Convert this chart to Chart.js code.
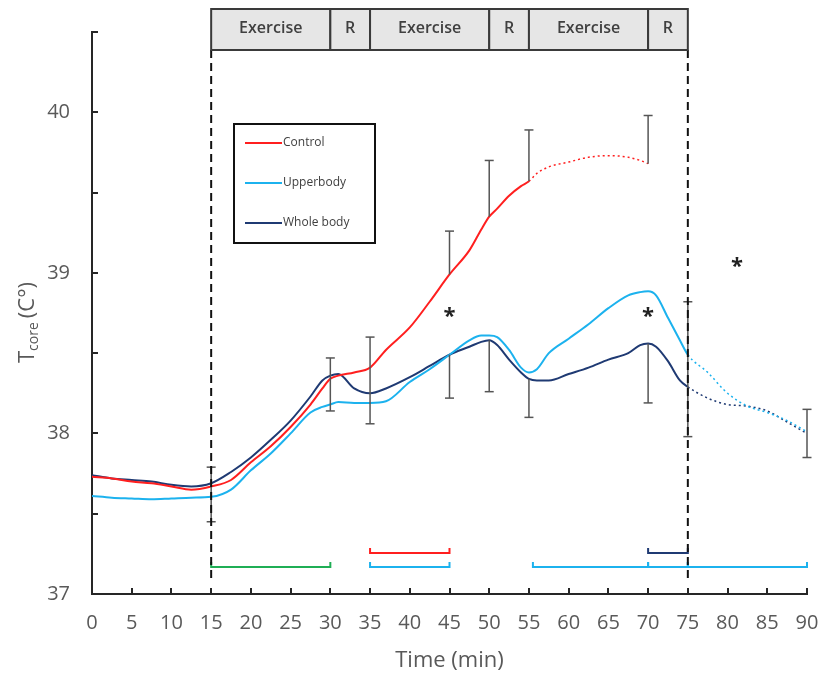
<!DOCTYPE html>
<html>
<head>
<meta charset="utf-8">
<script src="https://cdn.jsdelivr.net/npm/chart.js@4/dist/chart.umd.min.js"></script>
<style>
  html,body{margin:0;padding:0;background:#fff;}
  #wrap{width:820px;height:678px;position:relative;}
</style>
</head>
<body>
<div id="wrap"><canvas id="c" width="820" height="678"></canvas></div>
<script>
// ---- data ----
const times = [0,2.5,5,7.5,10,12.5,15,17.5,20,22.5,25,27.5,29,30,31,33,35,37,40,42.5,45,47.5,49,50,51,52.5,54,55,56,57.5,60,62.5,65,67.5,69,70,71,72.5,74,75,77.5,80,82.5,85,87.5,90];
const control = [37.73,37.72,37.70,37.69,37.67,37.65,37.67,37.71,37.82,37.92,38.04,38.18,38.28,38.34,38.36,38.38,38.41,38.52,38.66,38.82,38.99,39.14,39.27,39.35,39.40,39.48,39.54,39.57,39.62,39.66,39.69,39.72,39.73,39.72,39.70,39.68,null,null,null,null,null,null,null,null,null,null];
const upperbody = [37.61,37.60,37.595,37.59,37.595,37.60,37.605,37.65,37.77,37.875,38.00,38.13,38.165,38.18,38.195,38.19,38.19,38.20,38.32,38.40,38.49,38.58,38.61,38.61,38.60,38.52,38.41,38.38,38.40,38.50,38.59,38.68,38.78,38.86,38.88,38.885,38.86,38.72,38.58,38.49,38.38,38.25,38.17,38.13,38.08,38.01];
const wholebody = [37.74,37.72,37.71,37.70,37.68,37.67,37.69,37.76,37.85,37.96,38.08,38.23,38.33,38.36,38.37,38.28,38.25,38.28,38.35,38.42,38.49,38.54,38.57,38.58,38.55,38.46,38.38,38.34,38.33,38.33,38.37,38.41,38.46,38.50,38.55,38.56,38.54,38.45,38.33,38.29,38.22,38.18,38.17,38.14,38.07,38.00];
const seriesNames = ['Control','Upperbody','Whole body'];
const seriesColors = ['#ff1f1f','#1cb2ee','#1f3a73'];
const dottedFrom = [55, 75, 75];

// error bars
const errTime = [15,30,35,45,45,50,50,55,55,70,70,75,90];
const errLow  = [37.45,38.14,38.06,38.99,38.22,39.35,38.26,39.57,38.10,39.68,38.19,37.98,37.85];
const errHigh = [37.79,38.47,38.60,39.26,38.49,39.70,38.58,39.89,38.34,39.98,38.56,38.82,38.15];
const errCaps = ['both','both','both','high','low','high','low','high','low','high','low','both','both'];

// significance bars
const sigStart = [15,35,35,55.5,70,75,70];
const sigEnd   = [30,45,45,70,75,90,75];
const sigLevel = [37.168,37.255,37.168,37.168,37.168,37.168,37.255];
const sigColor = ['#1fae55','#ff1f1f','#1cb2ee','#1cb2ee','#1cb2ee','#1cb2ee','#1f3a73'];

// asterisks
const starTime = [45,70,81.2];
const starLevel = [38.75,38.75,39.06];

// phases
const phaseStart = [15,30,35,50,55,70];
const phaseEnd   = [30,35,50,55,70,75];
const phaseLabel = ['Exercise','R','Exercise','R','Exercise','R'];
const phaseLines = [15,75];

const xTicks = [0,5,10,15,20,25,30,35,40,45,50,55,60,65,70,75,80,85,90];
const yTicks = [37,37.5,38,38.5,39,39.5,40,40.5];

const FONT = "'Open Sans', 'Noto Sans', sans-serif";

const overlay = {
  id: 'overlay',
  afterDraw(chart) {
    const ctx = chart.ctx;
    const x = chart.scales.x, y = chart.scales.y;
    const area = chart.chartArea;
    ctx.save();

    // inward ticks
    ctx.strokeStyle = '#262626';
    ctx.lineWidth = 2;
    xTicks.forEach(t => {
      const px = Math.round(x.getPixelForValue(t));
      ctx.beginPath(); ctx.moveTo(px, area.bottom); ctx.lineTo(px, area.bottom - 6); ctx.stroke();
    });
    yTicks.forEach(v => {
      const py = Math.round(y.getPixelForValue(v));
      ctx.beginPath(); ctx.moveTo(area.left, py); ctx.lineTo(area.left + 6, py); ctx.stroke();
    });

    // error bars
    ctx.strokeStyle = '#555555';
    ctx.lineWidth = 1.5;
    errTime.forEach((t, i) => {
      const px = x.getPixelForValue(t);
      const lo = y.getPixelForValue(errLow[i]);
      const hi = y.getPixelForValue(errHigh[i]);
      ctx.beginPath(); ctx.moveTo(px, lo); ctx.lineTo(px, hi); ctx.stroke();
      if (errCaps[i] === 'both' || errCaps[i] === 'high') {
        ctx.beginPath(); ctx.moveTo(px - 4.5, hi); ctx.lineTo(px + 4.5, hi); ctx.stroke();
      }
      if (errCaps[i] === 'both' || errCaps[i] === 'low') {
        ctx.beginPath(); ctx.moveTo(px - 4.5, lo); ctx.lineTo(px + 4.5, lo); ctx.stroke();
      }
    });

    // significance bars
    ctx.lineWidth = 2;
    sigStart.forEach((s, i) => {
      const x0 = x.getPixelForValue(s), x1 = x.getPixelForValue(sigEnd[i]);
      const py = y.getPixelForValue(sigLevel[i]);
      ctx.strokeStyle = sigColor[i];
      ctx.beginPath();
      ctx.moveTo(x0, py - 5); ctx.lineTo(x0, py); ctx.lineTo(x1, py); ctx.lineTo(x1, py - 5);
      ctx.stroke();
    });

    // dashed phase lines
    ctx.strokeStyle = '#111';
    ctx.lineWidth = 2;
    ctx.setLineDash([8, 5]);
    phaseLines.forEach(t => {
      const px = x.getPixelForValue(t);
      ctx.beginPath(); ctx.moveTo(px, 50); ctx.lineTo(px, 580); ctx.stroke();
    });
    ctx.setLineDash([]);

    // phase boxes
    ctx.font = '600 16px ' + FONT;
    ctx.textAlign = 'center';
    ctx.textBaseline = 'middle';
    phaseStart.forEach((s, i) => {
      const x0 = x.getPixelForValue(s), x1 = x.getPixelForValue(phaseEnd[i]);
      ctx.fillStyle = '#e6e6e6';
      ctx.fillRect(x0, 9, x1 - x0, 41);
      ctx.strokeStyle = '#3a3a3a';
      ctx.lineWidth = 2;
      ctx.strokeRect(x0, 9, x1 - x0, 41);
      ctx.fillStyle = '#404040';
      ctx.fillText(phaseLabel[i], (x0 + x1) / 2, 28);
    });

    // asterisks
    ctx.fillStyle = '#222';
    ctx.font = 'bold 22px ' + FONT;
    starTime.forEach((t, i) => {
      ctx.fillText('*', x.getPixelForValue(t), y.getPixelForValue(starLevel[i]) + 4);
    });

    // legend
    ctx.fillStyle = '#fff';
    ctx.fillRect(234, 124, 141, 119);
    ctx.strokeStyle = '#111';
    ctx.lineWidth = 2;
    ctx.strokeRect(234, 124, 141, 119);
    ctx.font = '12px ' + FONT;
    ctx.textAlign = 'left';
    seriesNames.forEach((n, i) => {
      const ly = 143 + i * 40;
      ctx.strokeStyle = seriesColors[i];
      ctx.lineWidth = 2;
      ctx.beginPath(); ctx.moveTo(245, ly); ctx.lineTo(282, ly); ctx.stroke();
      ctx.fillStyle = '#404040';
      ctx.fillText(n, 283, ly);
    });

    // y title
    ctx.save();
    ctx.translate(34, 363);
    ctx.rotate(-Math.PI / 2);
    ctx.fillStyle = '#595959';
    ctx.textAlign = 'left';
    ctx.textBaseline = 'alphabetic';
    ctx.font = '22px ' + FONT;
    ctx.fillText('T', 0, 0);
    let w = ctx.measureText('T').width;
    ctx.font = '14px ' + FONT;
    ctx.fillText('core', w, 4);
    w += ctx.measureText('core').width + 4;
    ctx.font = '22px ' + FONT;
    ctx.fillText('(C°)', w, 0);
    ctx.restore();

    ctx.restore();
  }
};

function mkData(vals) { return times.map((t, i) => ({ x: t, y: vals[i] })); }
const allSeries = [control, upperbody, wholebody];

new Chart(document.getElementById('c'), {
  type: 'line',
  data: {
    datasets: allSeries.map((vals, i) => ({
      label: seriesNames[i],
      data: mkData(vals),
      borderColor: seriesColors[i],
      borderWidth: 2,
      pointRadius: 0,
      cubicInterpolationMode: 'monotone',
      spanGaps: false,
      segment: {
        borderDash: c => (c.p0.parsed.x >= dottedFrom[i] ? [2, 3] : undefined),
        borderWidth: c => (c.p0.parsed.x >= dottedFrom[i] ? 1.5 : 2)
      }
    }))
  },
  options: {
    responsive: false,
    animation: false,
    layout: { padding: { left: 0, right: 13, top: 32, bottom: 0 } },
    plugins: { legend: { display: false }, tooltip: { enabled: false } },
    scales: {
      x: {
        type: 'linear', min: 0, max: 90,
        afterFit: s => { s.height = 84; s.paddingLeft = 0; s.paddingRight = 0; },
        afterBuildTicks: s => { s.ticks = xTicks.map(v => ({ value: v })); },
        grid: { display: false, drawTicks: false },
        border: { display: true, color: '#262626', width: 2 },
        ticks: { padding: 17, color: '#595959', font: { family: FONT, size: 20 }, maxRotation: 0, autoSkip: false },
        title: { display: true, text: 'Time (min)', color: '#595959', font: { family: FONT, size: 22 }, padding: { top: 6 } }
      },
      y: {
        type: 'linear', min: 37, max: 40.5,
        afterFit: s => { s.width = 92; s.paddingTop = 0; s.paddingBottom = 0; },
        afterBuildTicks: s => { s.ticks = yTicks.map(v => ({ value: v })); },
        grid: { display: false, drawTicks: false },
        border: { display: true, color: '#262626', width: 2 },
        ticks: { padding: 22, color: '#595959', font: { family: FONT, size: 20 },
          callback: v => (Number.isInteger(v) ? String(v) : '') }
      }
    }
  },
  plugins: [overlay]
});
</script>
</body>
</html>
